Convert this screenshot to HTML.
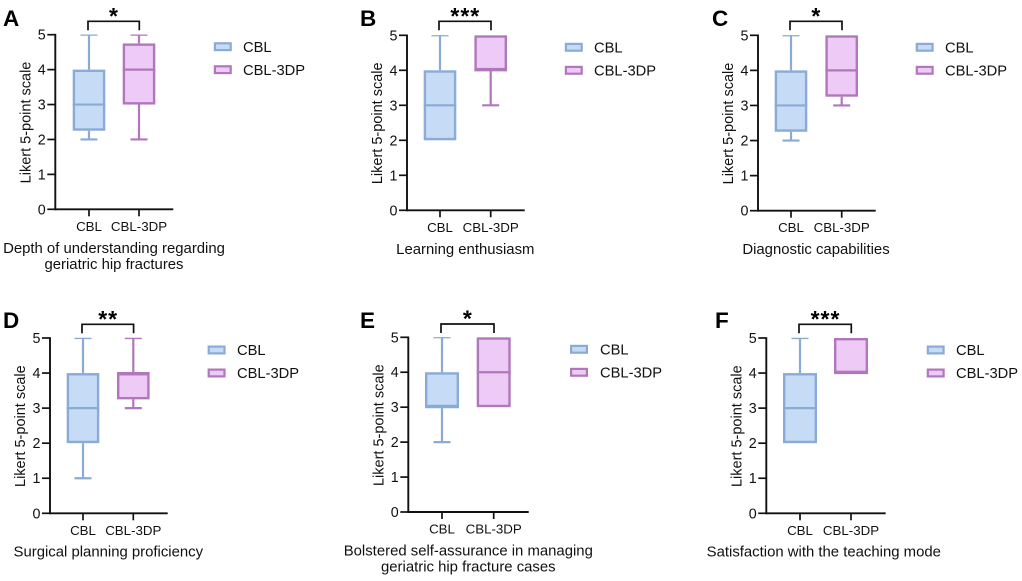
<!DOCTYPE html>
<html lang="en">
<head>
<meta charset="utf-8">
<title>Likert scale box plots: CBL vs CBL-3DP</title>
<style>
html,body{margin:0;padding:0;background:#fff;}
svg{display:block;font-family:"Liberation Sans",Arial,sans-serif;fill:#111;}
</style>
</head>
<body>
<svg id="figure" width="1022" height="581" viewBox="0 0 1022 581" xmlns="http://www.w3.org/2000/svg"></svg>
<script>
// ---- Data ----
const groupNames = ['CBL', 'CBL-3DP'];
const yTickLabels = [0, 1, 2, 3, 4, 5];
const yAxisLabel = 'Likert 5-point scale';
const panelLetters = ['A', 'B', 'C', 'D', 'E', 'F'];
const significance = ['*', '***', '*', '**', '*', '***'];
const captions = [
  ['Depth of understanding regarding', 'geriatric hip fractures'],
  ['Learning enthusiasm'],
  ['Diagnostic capabilities'],
  ['Surgical planning proficiency'],
  ['Bolstered self-assurance in managing', 'geriatric hip fracture cases'],
  ['Satisfaction with the teaching mode']
];
// five-number summaries: [min, q1, median, q3, max]
const cblValues = [
  [2, 2.25, 3, 4, 5],
  [2, 2, 3, 4, 5],
  [2, 2.25, 3, 4, 5],
  [1, 2, 3, 4, 5],
  [2, 3, 3, 4, 5],
  [2, 2, 3, 4, 5]
];
const cbl3dpValues = [
  [2, 3, 4, 4.75, 5],
  [3, 4, 4, 5, 5],
  [3, 3.25, 4, 5, 5],
  [3, 3.25, 4, 4, 5],
  [3, 3, 4, 5, 5],
  [4, 4, 4, 5, 5]
];

// ---- Layout (separate from data) ----
const layout = [
  {ax:55.3, y0:209.3, y5:34.7, xEnd:173.3, c1:89, c2:139, hw:16.3, brY:21.3, legX:213.8, legT:243, capX:114, capY:253, letX:3, letY:26},
  {ax:407, y0:210.3, y5:35.3, xEnd:524.7, c1:440, c2:490.7, hw:16.3, brY:21.3, legX:564.8, legT:594, capX:465.3, capY:254, letX:360, letY:26},
  {ax:758, y0:210.7, y5:35.3, xEnd:875.7, c1:791, c2:841.7, hw:16.3, brY:21.3, legX:915.7, legT:945, capX:816, capY:254, letX:712, letY:26},
  {ax:50, y0:513.3, y5:338, xEnd:167.7, c1:83, c2:133.3, hw:16.3, brY:324.3, legX:207.6, legT:237, capX:108.3, capY:556.7, letX:3, letY:328},
  {ax:408.3, y0:512, y5:337.3, xEnd:528.7, c1:442, c2:493.7, hw:17, brY:324, legX:570, legT:600, capX:468.3, capY:555.7, letX:360, letY:328},
  {ax:766.3, y0:513.3, y5:338, xEnd:885.7, c1:800, c2:851, hw:17, brY:324.3, legX:926.7, legT:956, capX:823.8, capY:556.7, letX:715, letY:328}
];
const styles = [
  {stroke:'#8aabd6', fill:'#c6dbf6'},
  {stroke:'#b077bb', fill:'#eecbf6'}
];
const BOX_STROKE = 2.4;
const NS = 'http://www.w3.org/2000/svg';
const root = document.getElementById('figure');

function make(parent, tag, attrs, text) {
  const el = document.createElementNS(NS, tag);
  for (const k in attrs) el.setAttribute(k, attrs[k]);
  if (text !== undefined) el.textContent = text;
  parent.appendChild(el);
  return el;
}
function named(el, name) {
  
  
  return el;
}
function drawBox(g, vals, cx, hw, scale, style, name, clipId) {
  const box = named(make(g, 'g', {'clip-path': 'url(#' + clipId + ')'}), name);
  const [mn, q1, med, q3, mx] = vals;
  const common = {stroke: style.stroke, 'stroke-width': 2.2, fill: 'none'};
  const inset = BOX_STROKE / 2;
  if (mx > q3) {
    named(make(box, 'line', Object.assign({x1: cx, x2: cx, y1: scale(q3), y2: scale(mx)}, common)), 'upper-whisker');
    named(make(box, 'line', Object.assign({x1: cx - 8.5, x2: cx + 8.5, y1: scale(mx), y2: scale(mx)}, common)), 'upper-cap');
  }
  if (mn < q1) {
    named(make(box, 'line', Object.assign({x1: cx, x2: cx, y1: scale(q1), y2: scale(mn)}, common)), 'lower-whisker');
    named(make(box, 'line', Object.assign({x1: cx - 8.5, x2: cx + 8.5, y1: scale(mn), y2: scale(mn)}, common)), 'lower-cap');
  }
  named(make(box, 'rect', {x: cx - hw + inset, y: scale(q3) + inset, width: 2 * hw - 2 * inset, height: scale(q1) - scale(q3) - 2 * inset, fill: style.fill, stroke: style.stroke, 'stroke-width': BOX_STROKE}), 'box-body');
  named(make(box, 'line', Object.assign({x1: cx - hw, x2: cx + hw, y1: scale(med), y2: scale(med)}, common)), 'median-line');
}

const defs = make(root, 'defs', {});

layout.forEach(function (p, i) {
  const letter = panelLetters[i].toLowerCase();
  const panel = named(make(root, 'g', {}), 'panel-' + letter);
  const scale = function (v) { return p.y0 + (p.y5 - p.y0) * v / 5; };

  const clipId = 'plot-clip-' + letter;
  const clip = make(defs, 'clipPath', {id: clipId});
  make(clip, 'rect', {x: p.ax, y: p.y5 - 0.2, width: p.xEnd - p.ax, height: p.y0 - p.y5 + 6});

  named(make(panel, 'text', {x: p.letX, y: p.letY, 'font-size': 22.5, 'font-weight': 'bold', fill: '#000'}, panelLetters[i]), 'panel-letter');

  // boxes
  drawBox(panel, cblValues[i], p.c1, p.hw, scale, styles[0], 'box-cbl', clipId);
  drawBox(panel, cbl3dpValues[i], p.c2, p.hw, scale, styles[1], 'box-cbl-3dp', clipId);

  // axes
  const axisAttrs = {stroke: '#111', 'stroke-width': 1.9, fill: 'none'};
  const tickAttrs = {stroke: '#111', 'stroke-width': 1.7, fill: 'none'};
  named(make(panel, 'line', Object.assign({x1: p.ax, x2: p.ax, y1: p.y5 - 0.8, y2: p.y0 + 0.9}, axisAttrs)), 'y-axis');
  named(make(panel, 'line', Object.assign({x1: p.ax, x2: p.xEnd, y1: p.y0, y2: p.y0}, axisAttrs)), 'x-axis');

  yTickLabels.forEach(function (t) {
    const y = scale(t);
    named(make(panel, 'line', Object.assign({x1: p.ax - 8, x2: p.ax, y1: y, y2: y}, tickAttrs)), 'y-tick');
    named(make(panel, 'text', {x: p.ax - 9.6, y: y + 5, 'font-size': 14.3, 'text-anchor': 'end'}, String(t)), 'y-tick-label');
  });
  [p.c1, p.c2].forEach(function (cx, k) {
    named(make(panel, 'line', Object.assign({x1: cx, x2: cx, y1: p.y0, y2: p.y0 + 7}, tickAttrs)), 'x-tick');
    named(make(panel, 'text', {x: cx, y: p.y0 + 21.5, 'font-size': 13.3, 'text-anchor': 'middle'}, groupNames[k]), 'x-tick-label');
  });

  // y title
  const ty = (p.y0 + p.y5) / 2 + 0.5;
  const tx = p.ax - 25;
  named(make(panel, 'text', {x: tx, y: ty, 'font-size': 14.5, 'text-anchor': 'middle', transform: 'rotate(-90 ' + tx + ' ' + ty + ')'}, yAxisLabel), 'y-axis-title');

  // significance bracket
  named(make(panel, 'path', {d: 'M' + (p.c1 - 1) + ' ' + (p.brY + 9) + 'V' + p.brY + 'H' + (p.c2 + 0.3) + 'V' + (p.brY + 9), fill: 'none', stroke: '#111', 'stroke-width': 1.7}), 'significance-bracket');
  named(make(panel, 'text', {x: (p.c1 + p.c2) / 2, y: p.brY + 2.5, 'font-size': 23, 'font-weight': 'bold', 'letter-spacing': 1, 'text-anchor': 'middle', fill: '#000'}, significance[i]), 'significance-stars');

  // legend
  groupNames.forEach(function (name, k) {
    const cy = p.y5 + 12 + 23 * k;
    const entry = named(make(panel, 'g', {}), 'legend-entry-' + name.toLowerCase());
    named(make(entry, 'rect', {x: p.legX + 1.1, y: cy - 3.4, width: 15.8, height: 6.8, fill: styles[k].fill, stroke: styles[k].stroke, 'stroke-width': 2.2}), 'legend-swatch');
    named(make(entry, 'text', {x: p.legT, y: cy + 5.2, 'font-size': 14.7}, name), 'legend-label');
  });

  // caption
  captions[i].forEach(function (line, k) {
    named(make(panel, 'text', {x: p.capX, y: p.capY + k * 15.8, 'font-size': 14.9, 'text-anchor': 'middle'}, line), 'panel-caption');
  });
});
</script>
</body>
</html>
